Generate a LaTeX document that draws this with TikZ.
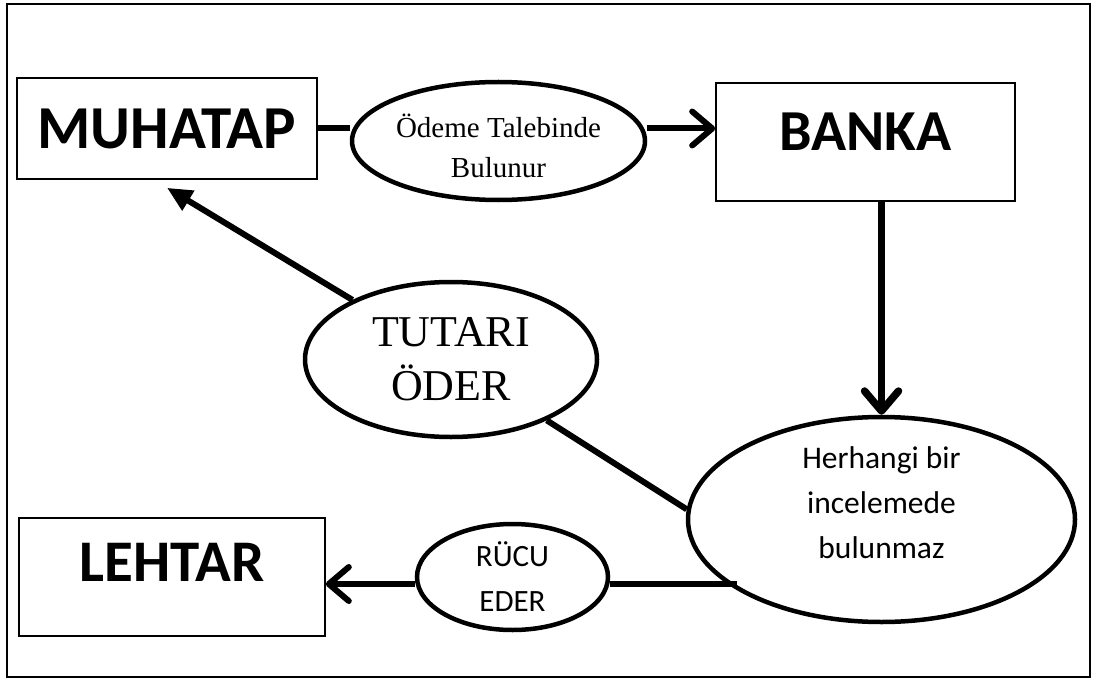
\documentclass[tikz,border=0pt]{standalone}
\usepackage{fontspec}
\setmainfont{Liberation Serif}
\newfontfamily\calibri{Carlito}
\usetikzlibrary{shapes, positioning, arrows.meta}

\begin{document}
\begin{tikzpicture}[x=1pt, y=-1pt,
    party/.style={rectangle,
      draw,
      line width=1.6pt,
      inner sep=0pt,
      font=\calibri\bfseries\fontsize{#1}{60}\selectfont},
    party/.default=58,
    action/.style={ellipse,
      draw,
      line width=4.5pt,
      inner sep=0pt,
      align=center},
    link/.style={line width=6pt},
    barb/.style={link, -{Straight Barb[length=20pt, width=34pt, round]}},
    push/.style={link, -{Triangle[length=25pt, width=22pt]}}]

  \useasboundingbox (0,0) rectangle (1094,679);
  \draw[line width=1.5pt] (7,4) rectangle (1090,677);

  % PARTIES

  \node[party=61, minimum width=300pt, minimum height=101pt] (muhatap) at (167,128.5) {MUHATAP};

  \node[party, minimum width=299pt, minimum height=118pt,
    text depth=21pt] (banka) at (865.5,142) {BANKA};

  \node[party=59, minimum width=306pt, minimum height=118pt,
    text depth=30pt] (lehtar) at (172,577) {LEHTAR};

  % ACTIONS

  \node[action, minimum width=293pt, minimum height=118pt,
    font=\fontsize{29}{40}\selectfont] (odeme) at (498.5,141) {
    \rule{0pt}{34pt}Ödeme Talebinde\\Bulunur
  };

  \node[action, minimum width=292pt, minimum height=155pt,
    font=\fontsize{44}{54}\selectfont] (tutari) at (451,359.5) {
    TUTARI\\ÖDER
  };

  \node[action, minimum width=387pt, minimum height=205pt,
    font=\calibri\fontsize{31.5}{45}\selectfont] (herhangi) at (881.5,519.5) {
    Herhangi bir\\incelemede\\bulunmaz\rule[-33pt]{0pt}{33pt}
  };

  \node[action, minimum width=191pt, minimum height=106pt,
    font=\calibri\fontsize{31}{45}\selectfont] (rucu) at (512.5,577) {
    RÜCU\\EDER
  };

  % FLOW

  \draw[link] (muhatap.east) -- (muhatap.east -| odeme.west);
  \draw[barb] (muhatap.east -| odeme.east) -- (muhatap.east -| banka.west);

  \draw[barb, line width=7.5pt] (banka.south -| herhangi.north) -- (herhangi.north);

  \draw[link] (herhangi.177) -- (tutari);
  \draw[push] (tutari) -- ([yshift=-8pt]muhatap.south);

  \coordinate (ruculine) at (737,584);
  \draw[link] (ruculine) -- (ruculine -| rucu.east);
  \draw[barb] (ruculine -| rucu.west) -- (ruculine -| lehtar.east);

\end{tikzpicture}
\end{document}
